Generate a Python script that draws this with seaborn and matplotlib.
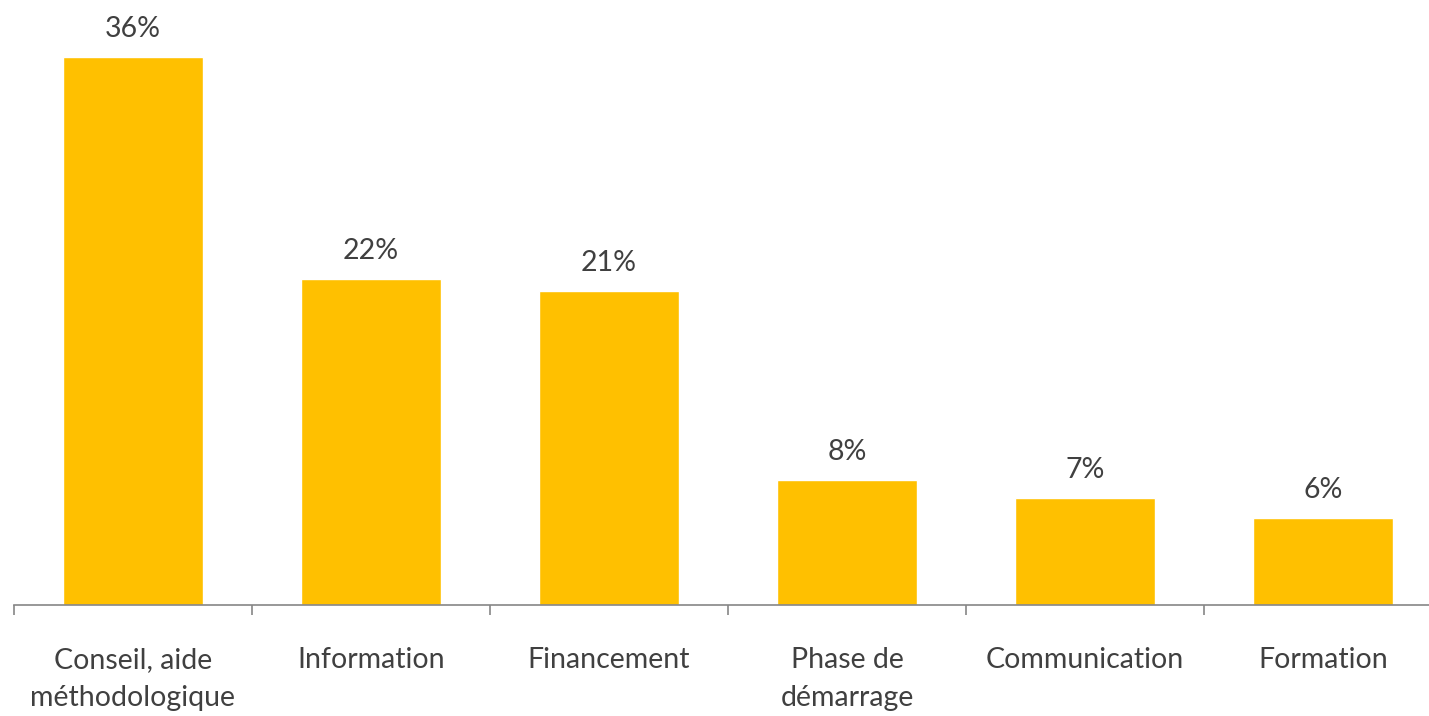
import matplotlib
matplotlib.use("Agg")
import matplotlib.pyplot as plt
import seaborn as sns
import pandas as pd
import numpy as np

categories = ["Conseil, aide\nméthodologique", "Information", "Financement",
              "Phase de\ndémarrage", "Communication", "Formation"]
values = [36.0, 21.4, 20.6, 8.2, 7.0, 5.7]
value_labels = ["36%", "22%", "21%", "8%", "7%", "6%"]

sns.set_style("white")
plt.rcParams['font.family'] = ['Lato', 'DejaVu Sans']

W, H = 1429, 716
fig = plt.figure(figsize=(W / 100, H / 100), dpi=100)
ax = fig.add_axes([14 / W, (H - 605) / H, 1428 / W, (40 * 15.22) / H])

df = pd.DataFrame({"cat": categories, "val": values})
sns.barplot(data=df, x="cat", y="val", color="#FFC000", saturation=1,
            width=0.59, ax=ax)

ax.set_xlim(-0.5, 5.5)
ax.set_ylim(0, 40)
for p, lab in zip(ax.patches, value_labels):
    ax.annotate(lab, (p.get_x() + p.get_width() / 2, p.get_height()),
                xytext=(0, 11), textcoords="offset points", ha="center",
                va="bottom", fontsize=20.5, color="#404040", clip_on=False)

for s in ["top", "right", "left"]:
    ax.spines[s].set_visible(False)
ax.spines["bottom"].set_color("#868686")
ax.spines["bottom"].set_linewidth(1.2)
ax.set_yticks([])
ax.set_xlabel("")
ax.set_ylabel("")
ax.tick_params(axis="x", which="major", length=0, pad=30, labelsize=20.5,
               labelcolor="#404040")
ax.set_xticks(np.arange(-0.5, 6.0, 1.0), minor=True)
ax.tick_params(axis="x", which="minor", bottom=True, length=7,
               color="#868686", width=1.2)
for t in ax.get_xticklabels():
    t.set_ha("center")
    t.set_va("top")
    t.set_linespacing(1.6)

fig.savefig("out.png", dpi=100, facecolor="white")
